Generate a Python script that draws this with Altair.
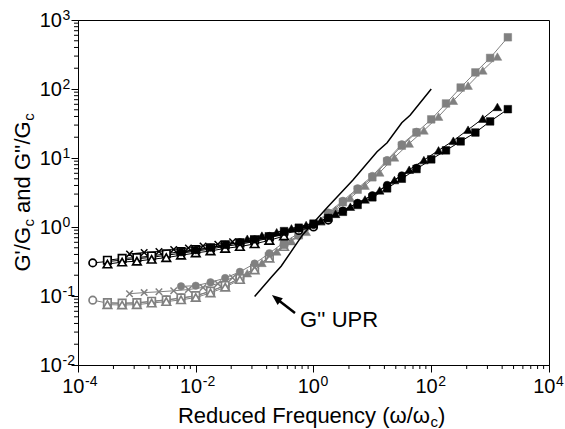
import altair as alt
import pandas as pd

W, H = 471, 345
FONT = "Liberation Sans"
BLACK = "#000000"
GREY = "#808080"

# ---- data (reduced frequency, G''/Gc black, G'/Gc grey) ----
s1_x = [1.78e-4, 3.16e-4, 5.62e-4, 1.0e-3, 1.78e-3, 3.16e-3, 5.62e-3, 0.01, 0.0178,
        0.0316, 0.0562, 0.1, 0.178, 0.316, 0.562, 1.0, 1.78]
s1_black = [0.302, 0.316, 0.331, 0.347, 0.363, 0.389, 0.417, 0.447, 0.479, 0.525, 0.562,
            0.617, 0.692, 0.794, 0.891, 1.0, 1.26]
s1_grey = [0.087, 0.079, 0.078, 0.079, 0.083, 0.087, 0.093, 0.100, 0.117, 0.141, 0.182,
           0.251, 0.372, 0.550, 0.759, 1.05, 1.55]

s2_x = [3.16e-4, 5.62e-4, 1.0e-3, 1.78e-3, 3.16e-3, 5.62e-3, 0.01, 0.0178, 0.0316,
        0.0562, 0.1, 0.178]
s2_black = [0.33, 0.35, 0.36, 0.38, 0.41, 0.44, 0.47, 0.50, 0.55, 0.59, 0.65, 0.72]
s2_grey = [0.080, 0.079, 0.080, 0.084, 0.088, 0.094, 0.101, 0.118, 0.142, 0.180, 0.250, 0.370]

s3_x = [3.16e-4, 5.62e-4, 1.0e-3, 1.78e-3, 3.16e-3, 5.62e-3, 0.01, 0.0178, 0.0316,
        0.0562, 0.1, 0.178, 0.316]
s3_black = [0.29, 0.31, 0.32, 0.34, 0.36, 0.39, 0.42, 0.45, 0.49, 0.52, 0.57, 0.64, 0.74]
s3_grey = [0.075, 0.074, 0.075, 0.079, 0.083, 0.088, 0.095, 0.111, 0.134, 0.173, 0.238,
           0.353, 0.52]

s4_x = [7.5e-4, 1.33e-3, 2.37e-3, 4.22e-3, 7.5e-3, 0.0133, 0.0237, 0.0422]
s4_black = [0.407, 0.427, 0.442, 0.473, 0.495, 0.531, 0.562, 0.610]
s4_grey = [0.108, 0.112, 0.115, 0.119, 0.124, 0.133, 0.151, 0.184]

s5_x = [5.62e-3, 0.01, 0.0178, 0.0316, 0.0562, 0.1, 0.178, 0.316, 0.562, 1.0, 1.78,
        3.16, 5.62, 10, 17.8, 31.6, 56.2]
s5_black = [0.43, 0.46, 0.50, 0.55, 0.60, 0.66, 0.74, 0.85, 0.95, 1.07, 1.35, 1.73,
            2.24, 2.88, 4.07, 5.6, 7.2]
s5_grey = [0.138, 0.141, 0.158, 0.182, 0.224, 0.295, 0.417, 0.60, 0.81, 1.10, 1.62,
           2.40, 3.63, 5.50, 9.33, 15.8, 24.0]

s6_x = [0.075, 0.133, 0.237, 0.422, 0.75, 1.33, 2.37, 4.22, 7.50, 13.3, 23.7, 42.2,
        75.0, 133, 237, 422, 750, 1330]
s6_black = [0.676, 0.750, 0.841, 0.955, 1.07, 1.23, 1.55, 1.97, 2.51, 3.39, 4.79, 6.76,
            9.33, 12.9, 17.8, 25.7, 37.2, 55.0]
s6_grey = [0.214, 0.302, 0.442, 0.624, 0.851, 1.20, 1.78, 2.63, 3.98, 6.17, 10.2, 16.2,
           25.1, 39.8, 67.6, 112, 186, 295]

s7_x = [0.316, 0.562, 1.0, 1.78, 3.16, 5.62, 10, 17.8, 31.6, 56.2, 100, 178, 316, 562,
        1000, 2000]
s7_black = [0.871, 0.977, 1.12, 1.35, 1.66, 2.09, 2.69, 3.63, 5.01, 6.92, 9.55, 12.9,
            17.4, 23.4, 33.9, 51.0]
s7_grey = [0.550, 0.759, 1.05, 1.55, 2.29, 3.47, 5.25, 8.91, 15.1, 23.4, 36.3, 61.7,
           105, 174, 282, 562]

upr_x = [0.1, 0.195, 0.282, 0.661, 1.74, 4.68, 12.0, 17.8, 31.6, 43.7, 100]
upr_y = [0.098, 0.19, 0.27, 0.78, 1.95, 4.79, 12.3, 16.6, 32.4, 41.7, 100]

x_label_vals = [1e-4, 1e-2, 1, 1e2, 1e4]
x_label_exp = ["-4", "-2", "0", "2", "4"]
y_label_vals = [1e-2, 1e-1, 1, 1e1, 1e2, 1e3]
y_label_exp = ["-2", "-1", "0", "1", "2", "3"]

# ---- scales / axes ----
xscale = alt.Scale(type="log", domain=[1e-4, 1e4], nice=False)
yscale = alt.Scale(type="log", domain=[1e-2, 1e3], nice=False)
xaxis = alt.Axis(values=x_label_vals, labels=False, tickSize=7, tickColor=BLACK,
                 domainColor=BLACK, grid=False, title=None, tickWidth=1, domainWidth=1)
yaxis = alt.Axis(values=y_label_vals, labels=False, tickSize=7, tickColor=BLACK,
                 domainColor=BLACK, grid=False, title=None, tickWidth=1, domainWidth=1)

X = lambda f: alt.X(f, scale=xscale, axis=xaxis)
Y = lambda f: alt.Y(f, scale=yscale, axis=yaxis)

CROSS = "M-1,-1L1,1M-1,1L1,-1"
series = [
    (s1_x, s1_black, s1_grey, "circle", False, 55),
    (s2_x, s2_black, s2_grey, "square", False, 56),
    (s3_x, s3_black, s3_grey, "triangle-up", False, 72),
    (s4_x, s4_black, s4_grey, CROSS, None, 42),
    (s5_x, s5_black, s5_grey, "circle", True, 56),
    (s6_x, s6_black, s6_grey, "triangle-up", True, 76),
    (s7_x, s7_black, s7_grey, "square", True, 58),
]

layers = []

# minor ticks
x_minor = [k * k * 10.0 ** (2 * n) for n in range(-2, 2) for k in range(2, 10)]
y_minor = [k * 10.0 ** n for n in range(-2, 3) for k in range(2, 10)]
layers.append(alt.Chart(pd.DataFrame({"v": x_minor})).mark_rule(color=BLACK, strokeWidth=1).encode(
    x=X("v:Q"), y=alt.value(H), y2=alt.value(H + 4)))
layers.append(alt.Chart(pd.DataFrame({"v": y_minor})).mark_rule(color=BLACK, strokeWidth=1).encode(
    y=Y("v:Q"), x=alt.value(-4), x2=alt.value(0)))

for col in [GREY, BLACK]:
    for xs, yb, yg, shape, filled, size in series:
        ys = yb if col == BLACK else yg
        base = alt.Chart(pd.DataFrame({"x": xs, "y": ys}))
        layers.append(base.mark_line(color=col, strokeWidth=1).encode(x=X("x:Q"), y=Y("y:Q")))
        if filled is None:
            pt = base.mark_point(shape=shape, size=size, filled=False, stroke=col,
                                 strokeWidth=1.5, opacity=1)
        elif filled:
            pt = base.mark_point(shape=shape, size=size, filled=True, fill=col, stroke=col,
                                 strokeWidth=0.5, opacity=1)
        else:
            pt = base.mark_point(shape=shape, size=size, filled=True, fill="white", stroke=col,
                                 strokeWidth=1.7, opacity=1)
        layers.append(pt.encode(x=X("x:Q"), y=Y("y:Q")))

# G'' UPR line
layers.append(alt.Chart(pd.DataFrame({"x": upr_x, "y": upr_y})).mark_line(
    color=BLACK, strokeWidth=1.5).encode(x=X("x:Q"), y=Y("y:Q")))

# annotation arrow + text
arrow = pd.DataFrame({"x": [0.485], "y": [0.0568], "x2": [0.23], "y2": [0.093]})
layers.append(alt.Chart(arrow).mark_rule(color=BLACK, strokeWidth=2.5).encode(
    x=X("x:Q"), y=Y("y:Q"), x2="x2:Q", y2="y2:Q"))
layers.append(alt.Chart(pd.DataFrame({"x": [0.197], "y": [0.103]})).mark_point(
    shape="M0,0L0.8,2L-0.8,2Z", size=110, angle=308, filled=True, color=BLACK, opacity=1).encode(
    x=X("x:Q"), y=Y("y:Q")))
layers.append(alt.Chart(pd.DataFrame({"x": [0.59], "y": [0.0356], "t": ["G'' UPR"]})).mark_text(
    align="left", baseline="alphabetic", font=FONT, fontSize=22, color=BLACK).encode(
    x=X("x:Q"), y=Y("y:Q"), text="t:N"))

# tick labels (10 + superscript exponent)
xl = pd.DataFrame({"v": x_label_vals, "e": x_label_exp})
layers.append(alt.Chart(xl).mark_text(text="10", align="right", baseline="alphabetic", dx=6.5,
                                      font=FONT, fontSize=20, color=BLACK).encode(
    x=X("v:Q"), y=alt.value(H + 28)))
layers.append(alt.Chart(xl).mark_text(align="left", baseline="alphabetic", dx=7,
                                      font=FONT, fontSize=14, color=BLACK).encode(
    x=X("v:Q"), y=alt.value(H + 21), text="e:N"))
yl = pd.DataFrame({"v": y_label_vals, "e": y_label_exp})
layers.append(alt.Chart(yl).mark_text(text="10", align="right", baseline="alphabetic", dy=7,
                                      font=FONT, fontSize=20, color=BLACK).encode(
    y=Y("v:Q"), x=alt.value(-16)))
layers.append(alt.Chart(yl).mark_text(align="left", baseline="alphabetic", dy=0,
                                      font=FONT, fontSize=14, color=BLACK).encode(
    y=Y("v:Q"), x=alt.value(-15.5), text="e:N"))

# axis titles with subscripts
def txt(t, x, y, size=22, align="left", angle=0):
    kw = dict(text=t, align=align, baseline="alphabetic", font=FONT, fontSize=size, color=BLACK)
    if angle:
        kw["angle"] = angle
    return alt.Chart(pd.DataFrame({"a": [0]})).mark_text(**kw).encode(
        x=alt.value(x), y=alt.value(y))

X0 = 352
layers.append(txt("Reduced Frequency (ω/ω", X0, H + 58, align="right"))
layers.append(txt("c", X0 + 0.5, H + 62, size=15))
layers.append(txt(")", X0 + 8, H + 58))

Y0 = 207
layers.append(txt("G'/G", -48, Y0, align="right", angle=270))
layers.append(txt("c", -44, Y0 - 0.5, size=15, angle=270))
layers.append(txt("and G''/G", -48, Y0 - 14.1, angle=270))
layers.append(txt("c", -44, Y0 - 106.2, size=15, angle=270))

chart = alt.layer(*layers).properties(
    width=W, height=H, autosize="none",
    padding={"left": 78, "top": 20, "right": 16, "bottom": 64},
).configure_view(stroke=BLACK, strokeWidth=1)

chart.save("out.html", embed_options={"renderer": "svg", "actions": False})
